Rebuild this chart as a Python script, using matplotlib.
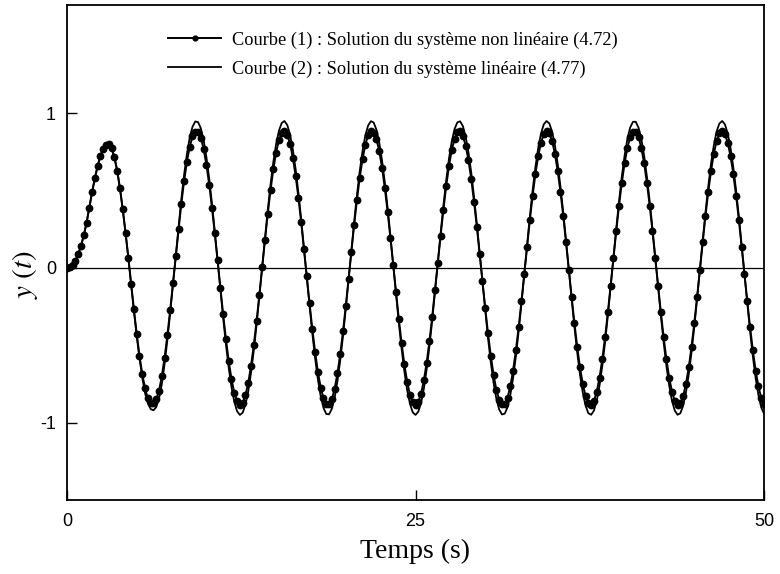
import numpy as np
import matplotlib.pyplot as plt

# Courbe (1) : solution non linéaire, un point toutes les 0.2 s (t = 0 ... 50)
y_nonlin = [
    0.0, 0.004, 0.018, 0.045, 0.09, 0.14, 0.21, 0.29, 0.39, 0.49,
    0.58, 0.66, 0.725, 0.77, 0.795, 0.799, 0.773, 0.716, 0.629, 0.514,
    0.378, 0.227, 0.066, -0.102, -0.268, -0.425, -0.566, -0.685, -0.779, -0.843,
    -0.876, -0.876, -0.85,
    -0.794, -0.701, -0.579, -0.435, -0.273, -0.100, 0.077, 0.250,
    0.414, 0.561, 0.686, 0.783, 0.850, 0.882, 0.879, 0.842, 0.770, 0.668,
    0.539, 0.389, 0.223, 0.049, -0.128, -0.299, -0.459, -0.601, -0.718, -0.806,
    -0.863, -0.885, -0.872, -0.824, -0.743, -0.633, -0.497, -0.342, -0.173, 0.004,
    0.179, 0.348, 0.503, 0.637, 0.746, 0.826, 0.873, 0.885, 0.861, 0.804,
    0.713, 0.596, 0.454, 0.294, 0.122, -0.055, -0.229, -0.395, -0.544, -0.673,
    -0.773, -0.843, -0.880, -0.881, -0.848, -0.781, -0.682, -0.557, -0.409, -0.244,
    -0.071, 0.106, 0.279, 0.440, 0.584, 0.704, 0.797, 0.858, 0.884, 0.875,
    0.832, 0.755, 0.648, 0.515, 0.362, 0.195, 0.019, -0.158, -0.327, -0.484,
    -0.622, -0.735, -0.818, -0.869, -0.885, -0.866, -0.812, -0.727, -0.612, -0.473,
    -0.314, -0.143, 0.033, 0.208, 0.374, 0.527, 0.658, 0.762, 0.836, 0.877,
    0.883, 0.854, 0.790, 0.696, 0.573, 0.427, 0.266, 0.092, -0.085, -0.258,
    -0.421, -0.567, -0.691, -0.787, -0.851, -0.882, -0.878, -0.839, -0.766, -0.663,
    -0.533, -0.381, -0.216, -0.041, 0.135, 0.307, 0.466, 0.606, 0.722, 0.809,
    0.865, 0.885, 0.870, 0.821, 0.739, 0.627, 0.490, 0.335, 0.165, -0.011,
    -0.187, -0.355, -0.509, -0.643, -0.750, -0.829, -0.874, -0.884, -0.859, -0.800,
    -0.709, -0.590, -0.447, -0.286, -0.114, 0.063, 0.237, 0.402, 0.550, 0.677,
    0.777, 0.846, 0.881, 0.881, 0.845, 0.777, 0.677, 0.550, 0.402, 0.237,
    0.063, -0.114, -0.286, -0.447, -0.590, -0.709, -0.800, -0.859, -0.884, -0.874,
    -0.829, -0.750, -0.643, -0.509, -0.355, -0.187, -0.011, 0.165, 0.335, 0.490,
    0.627, 0.739, 0.821, 0.870, 0.885, 0.865, 0.809, 0.722, 0.606, 0.466,
    0.307, 0.135, -0.041, -0.216, -0.381, -0.533, -0.663, -0.766, -0.839, -0.878,
]

# Courbe (2) : solution linéaire, mêmes instants
y_lin = [
    0.0, 0.004, 0.018, 0.045, 0.09, 0.14, 0.21, 0.29, 0.39, 0.49,
    0.58, 0.66, 0.725, 0.77, 0.795, 0.799, 0.773, 0.716, 0.629, 0.514,
    0.378, 0.227, 0.066, -0.105, -0.28, -0.44, -0.585, -0.71, -0.81, -0.875,
    -0.912, -0.92, -0.90,
    -0.845, -0.752, -0.621, -0.466, -0.293, -0.107, 0.083, 0.269,
    0.445, 0.602, 0.736, 0.841, 0.912, 0.947, 0.943, 0.903, 0.827, 0.717,
    0.579, 0.417, 0.239, 0.052, -0.138, -0.321, -0.493, -0.645, -0.770, -0.865,
    -0.926, -0.950, -0.936, -0.884, -0.798, -0.679, -0.534, -0.367, -0.185, 0.004,
    0.192, 0.373, 0.540, 0.684, 0.801, 0.886, 0.937, 0.950, 0.924, 0.863,
    0.766, 0.639, 0.487, 0.315, 0.131, -0.059, -0.246, -0.424, -0.584, -0.722,
    -0.830, -0.905, -0.944, -0.946, -0.910, -0.838, -0.732, -0.598, -0.439, -0.262,
    -0.076, 0.114, 0.299, 0.472, 0.627, 0.756, 0.856, 0.921, 0.949, 0.940,
    0.893, 0.810, 0.695, 0.553, 0.389, 0.209, 0.020, -0.169, -0.352, -0.520,
    -0.668, -0.789, -0.878, -0.933, -0.950, -0.929, -0.872, -0.780, -0.656, -0.507,
    -0.337, -0.154, 0.035, 0.223, 0.402, 0.565, 0.706, 0.818, 0.898, 0.941,
    0.948, 0.917, 0.848, 0.747, 0.616, 0.459, 0.285, 0.099, -0.091, -0.276,
    -0.452, -0.609, -0.742, -0.845, -0.914, -0.947, -0.942, -0.901, -0.822, -0.712,
    -0.572, -0.409, -0.232, -0.044, 0.145, 0.330, 0.500, 0.651, 0.775, 0.868,
    0.928, 0.950, 0.934, 0.882, 0.793, 0.674, 0.526, 0.359, 0.178, -0.011,
    -0.200, -0.381, -0.546, -0.690, -0.806, -0.890, -0.939, -0.949, -0.922, -0.859,
    -0.761, -0.634, -0.480, -0.307, -0.123, 0.067, 0.255, 0.431, 0.591, 0.727,
    0.834, 0.908, 0.945, 0.945, 0.907, 0.834, 0.727, 0.591, 0.431, 0.255,
    0.067, -0.123, -0.307, -0.480, -0.634, -0.761, -0.859, -0.922, -0.949, -0.939,
    -0.890, -0.806, -0.690, -0.546, -0.381, -0.200, -0.011, 0.178, 0.359, 0.526,
    0.674, 0.793, 0.882, 0.934, 0.950, 0.928, 0.868, 0.775, 0.651, 0.500,
    0.330, 0.145, -0.044, -0.232, -0.409, -0.572, -0.712, -0.822, -0.901, -0.942,
]

assert len(y_nonlin) == 251 and len(y_lin) == 251, (len(y_nonlin), len(y_lin))
t = np.linspace(0, 50, len(y_nonlin))

label1 = 'Courbe (1) : Solution du système non linéaire (4.72)'
label2 = 'Courbe (2) : Solution du système linéaire (4.77)'

plt.rcParams['font.family'] = 'Liberation Sans'
plt.rcParams['mathtext.fontset'] = 'stix'
plt.rcParams['axes.unicode_minus'] = False

fig = plt.figure(figsize=(7.8, 5.74), dpi=100)
ax = fig.add_axes([67 / 780, 74 / 574, 697 / 780, 495 / 574])

ax.axhline(0, color='black', lw=0.9, zorder=1)
ax.plot(t, y_nonlin, '-o', color='black', lw=1.4, ms=4.6, label=label1, zorder=3)
ax.plot(t, y_lin, '-', color='black', lw=1.3, label=label2, zorder=2)

ax.set_xlim(0, 50)
ax.set_ylim(-1.5, 1.7)
ax.set_xticks([0, 25, 50])
ax.set_yticks([-1, 0, 1])
ax.tick_params(direction='in', length=7, width=1, labelsize=13)
ax.tick_params(axis='x', pad=9)
ax.tick_params(axis='y', pad=8)
for s in ax.spines.values():
    s.set_linewidth(1.3)

ax.set_xlabel('Temps (s)', fontfamily='Liberation Serif', fontsize=20, labelpad=7)
ax.set_ylabel(r'$y\ (t)$', fontsize=21)
ax.yaxis.set_label_coords(-0.039, 0.455)

ax.legend(loc='upper left', bbox_to_anchor=(0.145, 0.947), frameon=False,
          prop={'family': 'Liberation Serif', 'size': 13.2},
          handlelength=2.9, handletextpad=0.6, labelspacing=0.66,
          borderpad=0, borderaxespad=0, markerscale=0.75)

fig.savefig('out.png', dpi=100)
